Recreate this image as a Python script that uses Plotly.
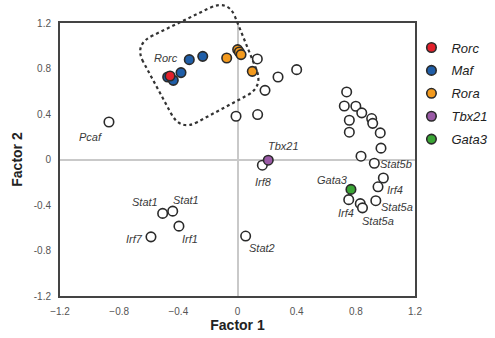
import plotly.graph_objects as go

# ---- data ----
rorc_x = [-0.456]
rorc_y = [0.734]
maf_x = [-0.472, -0.434, -0.382, -0.326, -0.235]
maf_y = [0.725, 0.696, 0.764, 0.878, 0.907]
rora_x = [-0.073, 0.001, 0.012, 0.024, 0.100]
rora_y = [0.892, 0.966, 0.945, 0.922, 0.775]
tbx21_x = [0.208]
tbx21_y = [-0.006]
gata3_x = [0.767]
gata3_y = [-0.263]

other_x = [0.134, 0.186, 0.274, 0.400, -0.010, 0.136, -0.869,
           0.738, 0.722, 0.800, 0.840, 0.756, 0.907, 0.914, 0.756, 0.965, 0.970,
           0.835, 0.925, 0.986, 0.950, 0.752, 0.830, 0.845, 0.935,
           0.168, 0.055, -0.506, -0.438, -0.396, -0.585]
other_y = [0.884, 0.608, 0.725, 0.790, 0.380, 0.395, 0.330,
           0.594, 0.470, 0.468, 0.410, 0.345, 0.360, 0.318, 0.240, 0.234, 0.100,
           0.029, -0.033, -0.163, -0.240, -0.353, -0.388, -0.425, -0.362,
           -0.050, -0.673, -0.474, -0.454, -0.586, -0.680]

label_text = ["Rorc", "Pcaf", "Tbx21", "Irf8", "Stat2", "Gata3", "Irf4", "Stat5a",
              "Stat5a", "Irf4", "Stat5b", "Stat1", "Stat1", "Irf7", "Irf1"]
label_x = [-0.483, -0.997, 0.314, 0.179, 0.166, 0.639, 0.734, 0.950,
           1.075, 1.068, 1.072, -0.625, -0.348, -0.693, -0.321]
label_y = [0.892, 0.198, 0.117, -0.199, -0.779, -0.182, -0.471, -0.542,
           -0.419, -0.270, -0.041, -0.375, -0.357, -0.700, -0.700]

tick_vals = [-1.2, -0.8, -0.4, 0, 0.4, 0.8, 1.2]
tick_text_x = ["\u22121.2", "\u22120.8", "\u22120.4", "0", "0.4", "0.8", "1.2"]
tick_text_y = ["-1.2", "-0.8", "-0.4", "0", "0.4", "0.8", "1.2"]

# dashed enclosure corners (data coords)
box_x = [-0.700, -0.065, 0.175, -0.385]
box_y = [1.010, 1.410, 0.640, 0.250]

XR = [-1.2, 1.2]
YR = [-1.2, 1.2]

fig = go.Figure()

outline = dict(color="#2a2a2a", width=1.6)
msize = 9.5

fig.add_trace(go.Scatter(x=other_x, y=other_y, mode="markers", showlegend=False,
                         marker=dict(size=msize, color="white", line=outline)))

series = [
    ("Rorc", rorc_x, rorc_y, "#e3202b"),
    ("Maf", maf_x, maf_y, "#1f5ea8"),
    ("Rora", rora_x, rora_y, "#f39a1e"),
    ("Tbx21", tbx21_x, tbx21_y, "#9a5aa6"),
    ("Gata3", gata3_x, gata3_y, "#3aa535"),
]
draw_order = [1, 2, 0, 3, 4]
for i in draw_order:
    name, xs, ys, col = series[i]
    fig.add_trace(go.Scatter(x=xs, y=ys, mode="markers", name=name,
                             legendrank=i + 1, legendgroup=name,
                             marker=dict(size=msize, color=col, line=outline)))

for t, lx, ly in zip(label_text, label_x, label_y):
    fig.add_annotation(x=lx, y=ly, text=t, showarrow=False,
                       font=dict(family="Liberation Sans, Arial", size=11, color="#3a3a3a",
                                 style="italic"))

# rounded dashed box in paper coordinates
def to_paper(x, y):
    return (x - XR[0]) / (XR[1] - XR[0]), (y - YR[0]) / (YR[1] - YR[0])

pts = [to_paper(x, y) for x, y in zip(box_x, box_y)]
n = len(pts)
f = 0.2
path = ""
for k in range(n):
    p0 = pts[k - 1]
    p1 = pts[k]
    p2 = pts[(k + 1) % n]
    a = (p1[0] + (p0[0] - p1[0]) * f, p1[1] + (p0[1] - p1[1]) * f)
    b = (p1[0] + (p2[0] - p1[0]) * f, p1[1] + (p2[1] - p1[1]) * f)
    path += ("M" if k == 0 else "L") + f"{a[0]:.4f},{a[1]:.4f} "
    path += f"Q{p1[0]:.4f},{p1[1]:.4f} {b[0]:.4f},{b[1]:.4f} "
path += "Z"
fig.add_shape(type="path", path=path, xref="paper", yref="paper",
              line=dict(color="#333333", width=2.2, dash="dot"))

axis_common = dict(showgrid=False, zeroline=True, zerolinecolor="#c9c9c9", zerolinewidth=1.5,
                   showline=True, mirror=True, linecolor="#444444", linewidth=2,
                   ticks="outside", tickcolor="rgba(0,0,0,0)", ticklen=5,
                   tickfont=dict(family="Liberation Sans, Arial", size=10, color="#555555"),
                   tickvals=tick_vals, automargin=False)

fig.update_xaxes(range=XR, ticktext=tick_text_x,
                 title=dict(text="<b>Factor 1</b>", standoff=4,
                            font=dict(family="Liberation Sans, Arial", size=14, color="#222222")),
                 **axis_common)
fig.update_yaxes(range=YR, ticktext=tick_text_y,
                 title=dict(text="<b>Factor 2</b>", standoff=8,
                            font=dict(family="Liberation Sans, Arial", size=14, color="#222222")),
                 **axis_common)

fig.update_layout(
    width=495, height=338,
    margin=dict(l=60, r=80, t=23, b=42, autoexpand=False),
    paper_bgcolor="white", plot_bgcolor="white",
    legend=dict(x=0.99, xanchor="left", y=0.965, yanchor="top",
                font=dict(family="Liberation Sans, Arial", size=13, color="#222222", style="italic"),
                tracegroupgap=3, itemwidth=30, bgcolor="rgba(0,0,0,0)"),
)

fig.write_html("out.html", config={"displayModeBar": False},
               post_script="document.body.style.margin='0';document.body.style.overflow='hidden';")
